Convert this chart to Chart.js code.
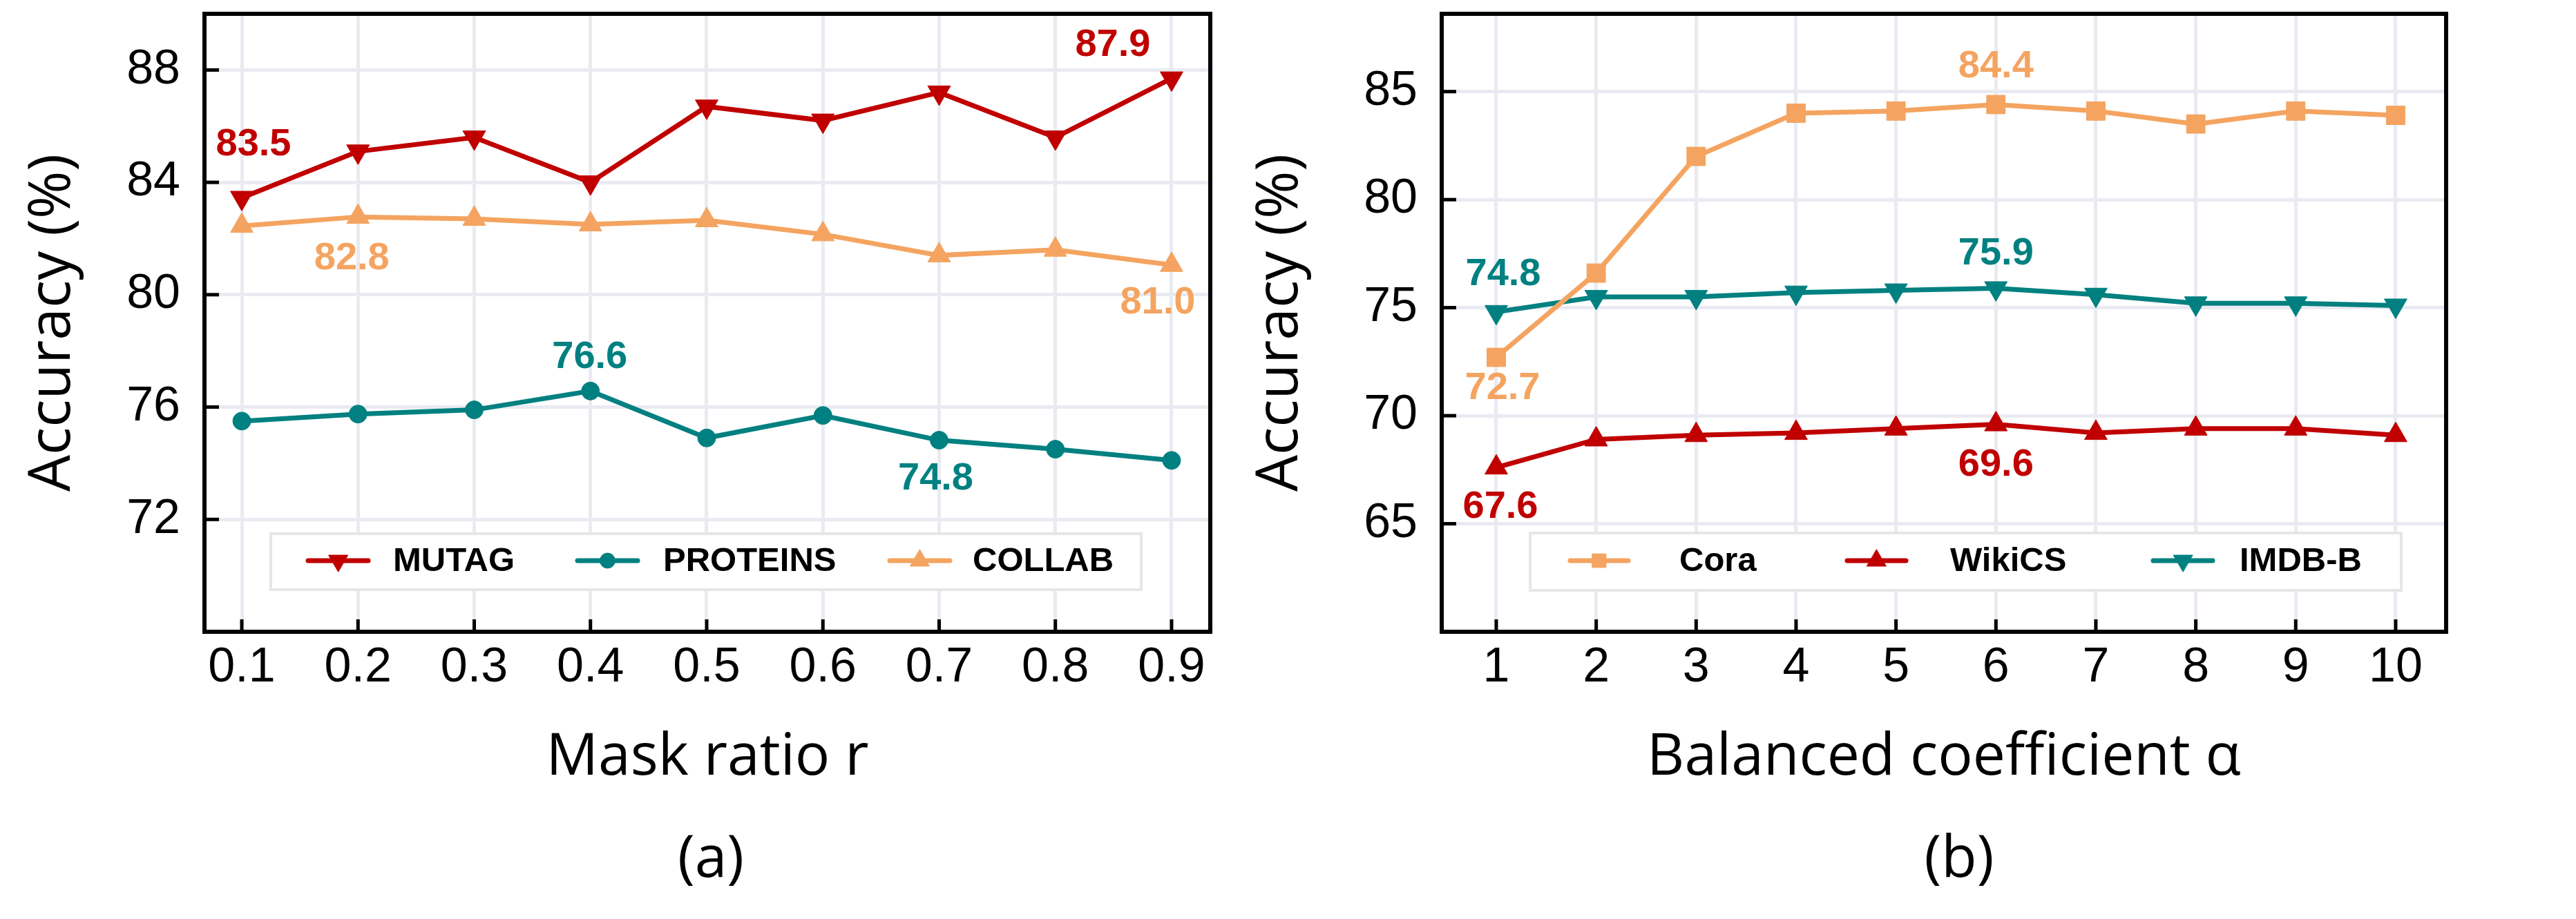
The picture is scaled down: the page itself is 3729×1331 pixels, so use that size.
<!DOCTYPE html>
<html><head><meta charset="utf-8">
<script src="https://cdn.jsdelivr.net/npm/chart.js@4.4.1/dist/chart.umd.min.js"></script>
<style>
html,body{margin:0;padding:0;background:#fff;width:3729px;height:1331px;overflow:hidden}
canvas{position:absolute;top:0}
#ca{left:0}
#cb{left:1780px}
</style></head><body>
<canvas id="ca" width="1865" height="1331"></canvas>
<canvas id="cb" width="1949" height="1331"></canvas>
<script>
// ---------- data: panel (a) ----------
const maskRatios = [0.1, 0.2, 0.3, 0.4, 0.5, 0.6, 0.7, 0.8, 0.9];
const maskTickLabels = ['0.1','0.2','0.3','0.4','0.5','0.6','0.7','0.8','0.9'];
const mutag    = [83.45, 85.1, 85.6, 84.0, 86.7, 86.2, 87.2, 85.6, 87.7];
const proteins = [75.5, 75.75, 75.9, 76.57, 74.9, 75.7, 74.82, 74.5, 74.1];
const collab   = [82.45, 82.77, 82.7, 82.5, 82.65, 82.15, 81.4, 81.6, 81.06];
const accTicksA = [72, 76, 80, 84, 88];
const accTickLabelsA = ['72','76','80','84','88'];
// value labels shown in (a): [series, point index, text]
const valueLabelsA = [
  ['MUTAG', 0, '83.5'], ['MUTAG', 8, '87.9'],
  ['COLLAB', 1, '82.8'], ['COLLAB', 8, '81.0'],
  ['PROTEINS', 3, '76.6'], ['PROTEINS', 6, '74.8']
];

// ---------- data: panel (b) ----------
const alphas = [1, 2, 3, 4, 5, 6, 7, 8, 9, 10];
const alphaTickLabels = ['1','2','3','4','5','6','7','8','9','10'];
const cora   = [72.7, 76.6, 82.0, 84.0, 84.1, 84.4, 84.1, 83.5, 84.1, 83.9];
const wikics = [67.6, 68.9, 69.1, 69.2, 69.4, 69.6, 69.2, 69.4, 69.4, 69.1];
const imdbb  = [74.8, 75.5, 75.5, 75.7, 75.8, 75.9, 75.6, 75.2, 75.2, 75.1];
const accTicksB = [65, 70, 75, 80, 85];
const accTickLabelsB = ['65','70','75','80','85'];
const valueLabelsB = [
  ['Cora', 5, '84.4'], ['IMDB-B', 5, '75.9'], ['WikiCS', 5, '69.6'],
  ['IMDB-B', 0, '74.8'], ['Cora', 0, '72.7'], ['WikiCS', 0, '67.6']
];

// ---------- styles ----------
const RED = '#C00000', TEAL = '#008080', SAND = '#F4A460';
const GRID = '#EAEAF2';
const TICK_FONT = {family: '"Liberation Sans", Arial, sans-serif', size: 70};
const TITLE_FONT = {family: '"Open Sans", "Noto Sans", sans-serif', size: 84};

const labelOffsetsA = [[17,-77],[-85,-48],[-9,60],[-20,55],[-1,-49],[-5,56]];
const labelOffsetsB = [[0,-55],[0,-50],[0,59],[10,-54],[9,45],[6,57]];

const legendA = {box:[392,773,1652,854], y:812, lines:[[446,533],[836,923],[1288,1375]], text:[569,960,1408], radius:[16,11,16]};
const legendB = {box:[435,772,1696,855], y:812, lines:[[493,577],[894,979],[1337,1423]], text:[651,1043,1462], radius:[14,16,16]};

function mkDataset(label, xs, ys, color, style, rot, radius) {
  return {
    label, data: xs.map((x, i) => ({x, y: ys[i]})),
    borderColor: color, backgroundColor: color, borderWidth: 7,
    pointStyle: style, pointRotation: rot, pointRadius: radius,
    pointBorderWidth: 1, pointBorderColor: color, pointBackgroundColor: color,
    tension: 0, fill: false
  };
}

const decor = {
  id: 'decor',
  afterDraw(chart, args, o) {
    const ctx = chart.ctx, a = chart.chartArea, xs = chart.scales.x, ys = chart.scales.y;
    ctx.save();
    // inward tick marks
    ctx.strokeStyle = '#000'; ctx.lineWidth = 5; ctx.lineCap = 'butt';
    xs.ticks.forEach(t => {
      const p = xs.getPixelForValue(t.value);
      ctx.beginPath(); ctx.moveTo(p, a.bottom); ctx.lineTo(p, a.bottom - 18); ctx.stroke();
    });
    ys.ticks.forEach(t => {
      const p = ys.getPixelForValue(t.value);
      ctx.beginPath(); ctx.moveTo(a.left, p); ctx.lineTo(a.left + 21, p); ctx.stroke();
    });
    // frame
    ctx.lineWidth = 6; ctx.lineJoin = 'miter';
    ctx.strokeRect(a.left, a.top, a.right - a.left, a.bottom - a.top);
    // legend
    const L = o.legend, b = L.box;
    ctx.fillStyle = '#fff'; ctx.fillRect(b[0], b[1], b[2]-b[0], b[3]-b[1]);
    ctx.strokeStyle = '#E6E6E6'; ctx.lineWidth = 4; ctx.strokeRect(b[0], b[1], b[2]-b[0], b[3]-b[1]);
    chart.data.datasets.forEach((ds, i) => {
      const [x1, x2] = L.lines[i];
      ctx.strokeStyle = ds.borderColor; ctx.lineWidth = 7; ctx.lineCap = 'round';
      ctx.beginPath(); ctx.moveTo(x1, L.y); ctx.lineTo(x2, L.y); ctx.stroke();
      ctx.fillStyle = ds.borderColor; ctx.lineWidth = 1;
      Chart.helpers.drawPoint(ctx, {pointStyle: ds.pointStyle, rotation: ds.pointRotation, radius: L.radius[i], borderWidth: 1}, (x1+x2)/2, L.y);
      ctx.fillStyle = '#000'; ctx.font = 'bold 49px "Liberation Sans", Arial, sans-serif';
      ctx.textAlign = 'left'; ctx.textBaseline = 'middle';
      ctx.fillText(ds.label, L.text[i], L.y + 1);
    });
    // value labels
    ctx.font = 'bold 56px "Liberation Sans", Arial, sans-serif';
    ctx.textAlign = 'center'; ctx.textBaseline = 'middle';
    o.values.forEach((v, k) => {
      const di = chart.data.datasets.findIndex(d => d.label === v[0]);
      const ds = chart.data.datasets[di];
      const pt = chart.getDatasetMeta(di).data[v[1]];
      ctx.fillStyle = ds.borderColor;
      ctx.fillText(v[2], pt.x + o.offsets[k][0], pt.y + o.offsets[k][1]);
    });
    // panel caption
    ctx.fillStyle = '#000'; ctx.font = '84px "Open Sans", "Noto Sans", sans-serif';
    ctx.textAlign = 'center'; ctx.textBaseline = 'alphabetic';
    ctx.fillText(o.caption, (a.left + a.right)/2 + o.capDx, 1270);
    ctx.restore();
  }
};

function makeChart(id, cfg) {
  return new Chart(document.getElementById(id), {
    type: 'line',
    data: {datasets: cfg.datasets},
    plugins: [decor],
    options: {
      responsive: false, animation: false, devicePixelRatio: 1, events: [],
      layout: {padding: {left: 0, top: 10, right: cfg.padRight, bottom: 0}},
      plugins: {
        legend: {display: false}, tooltip: {enabled: false},
        decor: {legend: cfg.legend, values: cfg.values, offsets: cfg.offsets, caption: cfg.caption, capDx: cfg.capDx}
      },
      scales: {
        x: {
          type: 'linear', min: cfg.xmin, max: cfg.xmax,
          afterBuildTicks: s => { s.ticks = cfg.xTicks.map(v => ({value: v})); },
          afterFit: s => { s.height = 416; s.paddingLeft = 0; s.paddingRight = 0; },
          ticks: {font: TICK_FONT, color: '#000', padding: 11, maxRotation: 0, autoSkip: false,
                  callback: (v, i) => cfg.xTickLabels[i]},
          grid: {color: GRID, lineWidth: 5, drawTicks: false},
          border: {display: false},
          title: {display: true, text: cfg.xTitle, font: TITLE_FONT, color: '#000', padding: {top: 0, bottom: 183}}
        },
        y: {
          type: 'linear', min: cfg.ymin, max: cfg.ymax,
          afterBuildTicks: s => { s.ticks = cfg.yTicks.map(v => ({value: v})); },
          afterFit: s => { s.width = cfg.yWidth; s.paddingTop = 0; s.paddingBottom = 0; },
          ticks: {font: TICK_FONT, color: '#000', padding: 35, autoSkip: false,
                  callback: (v, i) => cfg.yTickLabels[i]},
          grid: {color: GRID, lineWidth: 5, drawTicks: false},
          border: {display: false},
          title: {display: true, text: 'Accuracy (%)', font: TITLE_FONT, color: '#000', padding: {top: cfg.yTitlePad, bottom: 0}}
        }
      }
    }
  });
}

makeChart('ca', {
  datasets: [
    mkDataset('MUTAG', maskRatios, mutag, RED, 'triangle', 180, 19),
    mkDataset('PROTEINS', maskRatios, proteins, TEAL, 'circle', 0, 13),
    mkDataset('COLLAB', maskRatios, collab, SAND, 'triangle', 0, 19)
  ],
  xmin: 0.0679, xmax: 0.9333, ymin: 68, ymax: 90,
  xTicks: maskRatios, xTickLabels: maskTickLabels,
  yTicks: accTicksA, yTickLabels: accTickLabelsA,
  xTitle: 'Mask ratio r', yWidth: 296, yTitlePad: 27, padRight: 113,
  legend: legendA, values: valueLabelsA, offsets: labelOffsetsA, caption: '(a)', capDx: 5
});

makeChart('cb', {
  datasets: [
    mkDataset('Cora', alphas, cora, SAND, 'rect', 0, 19),
    mkDataset('WikiCS', alphas, wikics, RED, 'triangle', 0, 19),
    mkDataset('IMDB-B', alphas, imdbb, TEAL, 'triangle', 180, 19)
  ],
  xmin: 0.454, xmax: 10.505, ymin: 60, ymax: 88.6,
  xTicks: alphas, xTickLabels: alphaTickLabels,
  yTicks: accTicksB, yTickLabels: accTickLabelsB,
  xTitle: 'Balanced coefficient α', yWidth: 307, yTitlePad: 24, padRight: 188,
  legend: legendB, values: valueLabelsB, offsets: labelOffsetsB, caption: '(b)', capDx: 22
});
</script>
</body></html>
